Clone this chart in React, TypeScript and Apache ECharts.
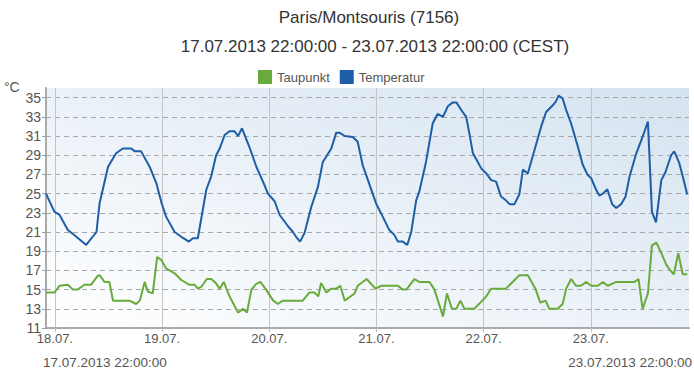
import React, { useEffect, useRef } from "react";
import * as echarts from "echarts";

// Hours after 17.07.2013 22:00 (CEST) and readings in °C
const tempHours = [0, 1.9, 3.0, 4.9, 6.8, 9.0, 11.3, 12.0, 13.9, 15.7, 17.2, 19.1, 19.9, 21.3, 23.2, 24.7, 25.9, 26.9, 28.8, 30.3, 32.0, 32.9, 34.0, 35.9, 37.0, 38.1, 38.9, 40.0, 41.1, 42.2, 43.0, 43.9, 45.6, 47.1, 48.6, 49.7, 51.2, 52.3, 54.2, 55.3, 56.0, 56.9, 57.9, 59.4, 60.9, 62.0, 63.9, 65.0, 65.7, 66.9, 68.7, 69.8, 70.9, 72.1, 73.9, 75.4, 76.9, 78.0, 78.8, 79.9, 80.9, 81.8, 82.9, 83.6, 85.1, 86.6, 87.7, 88.9, 90.0, 91.1, 91.9, 93.0, 94.1, 94.8, 95.6, 96.7, 97.5, 98.6, 99.7, 100.8, 101.9, 103.0, 103.8, 104.9, 106.0, 106.8, 107.9, 109.4, 110.9, 112.0, 113.5, 114.2, 114.8, 115.7, 116.5, 117.6, 119.1, 120.2, 121.3, 122.1, 123.2, 123.9, 124.7, 125.7, 126.8, 127.7, 128.8, 129.8, 130.7, 132.2, 133.6, 134.8, 135.7, 136.6, 137.8, 138.7, 140.0, 140.7, 141.8, 142.6, 143.6];
const tempValues = [25.0, 23.1, 22.8, 21.2, 20.5, 19.65, 21.0, 24.0, 27.8, 29.2, 29.7, 29.7, 29.4, 29.4, 27.8, 26.1, 24.0, 22.6, 21.0, 20.5, 20.0, 20.35, 20.35, 25.4, 26.8, 29.0, 29.7, 31.1, 31.5, 31.5, 31.0, 31.8, 29.8, 27.8, 26.25, 25.0, 24.2, 22.8, 21.6, 21.0, 20.5, 20.0, 20.9, 23.6, 25.7, 28.3, 29.7, 31.35, 31.35, 31.0, 30.9, 30.4, 28.0, 26.4, 24.0, 22.6, 21.2, 20.7, 20.0, 20.0, 19.65, 21.0, 24.3, 25.2, 28.3, 32.3, 33.3, 33.0, 34.1, 34.5, 34.5, 33.7, 33.0, 31.3, 29.2, 28.3, 27.6, 27.1, 26.4, 26.25, 24.7, 24.3, 23.9, 23.9, 24.9, 27.5, 27.1, 29.55, 32.0, 33.5, 34.2, 34.6, 35.2, 34.9, 33.7, 32.3, 29.9, 28.0, 26.95, 26.6, 25.4, 24.8, 25.0, 25.45, 23.9, 23.5, 23.9, 24.7, 26.8, 29.2, 30.9, 32.5, 23.1, 22.0, 26.4, 27.2, 29.0, 29.4, 28.2, 26.8, 24.9];

const dewHours = [0, 1.9, 3.0, 4.9, 6.0, 7.1, 8.6, 10.1, 11.6, 12.0, 13.1, 14.2, 15.0, 18.7, 20.2, 21.0, 22.1, 22.8, 23.9, 24.9, 25.8, 26.9, 28.8, 30.3, 32.1, 33.3, 34.0, 34.8, 36.0, 37.0, 38.0, 38.9, 39.8, 41.1, 43.0, 44.1, 45.0, 46.0, 47.1, 48.0, 49.3, 50.8, 51.9, 53.0, 57.5, 59.0, 60.1, 61.0, 61.6, 62.8, 63.9, 65.0, 65.9, 66.9, 69.1, 69.8, 71.8, 73.8, 75.1, 78.8, 79.9, 80.7, 82.5, 83.6, 85.9, 87.0, 88.9, 89.8, 90.9, 91.9, 92.8, 93.7, 95.9, 97.5, 98.6, 99.7, 103.0, 104.5, 106.0, 107.9, 109.6, 110.7, 111.9, 112.7, 114.6, 115.7, 116.5, 117.6, 118.7, 119.8, 121.0, 122.1, 123.6, 124.7, 125.8, 127.7, 131.8, 132.7, 133.6, 134.8, 135.7, 136.7, 137.8, 138.9, 139.8, 140.6, 141.6, 142.6, 143.6];
const dewValues = [14.7, 14.7, 15.4, 15.5, 15.0, 15.0, 15.5, 15.5, 16.45, 16.5, 15.8, 15.8, 13.85, 13.85, 13.5, 13.85, 15.8, 14.8, 14.6, 18.4, 18.1, 17.2, 16.7, 16.0, 15.5, 15.5, 15.1, 15.3, 16.1, 16.1, 15.7, 15.1, 15.8, 14.3, 12.6, 13.0, 12.6, 15.0, 15.6, 15.8, 15.0, 13.9, 13.5, 13.85, 13.85, 14.7, 14.7, 14.3, 15.7, 14.7, 15.1, 15.1, 15.4, 13.85, 14.6, 15.4, 16.1, 15.1, 15.4, 15.4, 15.0, 15.0, 16.1, 15.8, 15.8, 15.0, 12.2, 14.6, 13.0, 13.0, 13.85, 13.0, 13.0, 13.75, 14.3, 15.1, 15.1, 15.8, 16.5, 16.5, 15.1, 13.65, 13.85, 13.0, 13.0, 13.5, 15.1, 16.1, 15.4, 15.4, 15.8, 15.4, 15.4, 15.8, 15.4, 15.8, 15.8, 16.1, 13.0, 14.6, 19.6, 19.9, 18.8, 17.6, 17.0, 16.6, 18.8, 16.6, 16.6];

const yTicks = [11, 13, 15, 17, 19, 21, 23, 25, 27, 29, 31, 33, 35];
const dayTickHours = [2, 26, 50, 74, 98, 122];
const dayLabels = ["18.07.", "19.07.", "20.07.", "21.07.", "22.07.", "23.07."];

const titleText = "Paris/Montsouris (7156)";
const subtitleText = "17.07.2013 22:00:00 - 23.07.2013 22:00:00 (CEST)";
const startText = "17.07.2013 22:00:00";
const endText = "23.07.2013 22:00:00";
const unitText = "°C";
const seriesNames = ["Taupunkt", "Temperatur"];

const START = Date.UTC(2013, 6, 17, 22, 0, 0);
const HOUR = 3600 * 1000;
const END = START + 144 * HOUR;

const FONT = "'Liberation Sans', Arial, Helvetica, sans-serif";
const GREEN = "#68ab3c";
const BLUE = "#1d5ea6";

export default function App() {
  const ref = useRef<HTMLDivElement>(null);

  useEffect(() => {
    if (!ref.current) return;
    const chart = echarts.init(ref.current, null, { renderer: "svg" });
    const toPairs = (hs: number[], vs: number[]) => hs.map((h, i) => [START + h * HOUR, vs[i]]);
    const dayTicks = dayTickHours.map((h) => START + h * HOUR);
    const labelFor = (v: number) => {
      const i = dayTicks.findIndex((t) => Math.abs(t - v) < HOUR / 2);
      return i >= 0 ? dayLabels[i] : "";
    };

    chart.setOption({
      animation: false,
      textStyle: { fontFamily: FONT },
      title: [
        { text: titleText, left: 364, top: 4, textAlign: "center", textStyle: { fontSize: 17, fontWeight: "normal", color: "#333", fontFamily: FONT } },
        { text: subtitleText, left: 370, top: 33, textAlign: "center", textStyle: { fontSize: 17, fontWeight: "normal", color: "#333", fontFamily: FONT } },
      ],
      legend: {
        data: seriesNames,
        left: 253,
        top: 65,
        icon: "rect",
        itemWidth: 14,
        itemHeight: 14,
        itemGap: 10,
        textStyle: { fontSize: 13, color: "#555", fontFamily: FONT },
      },
      grid: {
        left: 46,
        right: 5,
        top: 88,
        bottom: 47,
        show: true,
        borderWidth: 0,
        backgroundColor: {
          type: "linear",
          x: 0, y: 1, x2: 1, y2: 0,
          colorStops: [
            { offset: 0, color: "#ffffff" },
            { offset: 1, color: "#d5e3f0" },
          ],
        },
      },
      xAxis: {
        type: "value",
        min: START,
        max: END,
        axisLine: { show: true, lineStyle: { color: "#aaa", width: 2 } },
        axisTick: { show: true, length: 4, customValues: dayTicks, lineStyle: { color: "#bbb" } },
        axisLabel: { customValues: dayTicks, formatter: (v: number) => labelFor(v), fontSize: 13, color: "#555", margin: 4, fontFamily: FONT },
        splitLine: { show: true, lineStyle: { color: "#c4c4c4", width: 1 } },
      },
      yAxis: {
        type: "value",
        min: 11,
        max: 36,
        axisLine: { show: true, lineStyle: { color: "#aaa", width: 2 } },
        axisTick: { show: true, length: 4, customValues: yTicks, lineStyle: { color: "#999" } },
        axisLabel: { customValues: yTicks, fontSize: 14, color: "#555", margin: 5, fontFamily: FONT },
        splitLine: { show: true, lineStyle: { color: "#a8a8a8", type: [5, 4], width: 1 } },
      },
      graphic: [
        { type: "text", left: 4, top: 80, style: { text: unitText, fontSize: 14, fill: "#555", fontFamily: FONT } },
        { type: "text", left: 43, top: 355, style: { text: startText, fontSize: 13.5, fill: "#555", fontFamily: FONT } },
        { type: "text", right: 2, top: 355, style: { text: endText, fontSize: 13.5, fill: "#555", fontFamily: FONT } },
      ],
      series: [
        {
          name: seriesNames[0],
          type: "line",
          data: toPairs(dewHours, dewValues),
          showSymbol: false,
          symbol: "none",
          itemStyle: { color: GREEN },
          lineStyle: { color: GREEN, width: 2 },
        },
        {
          name: seriesNames[1],
          type: "line",
          data: toPairs(tempHours, tempValues),
          showSymbol: false,
          symbol: "none",
          itemStyle: { color: BLUE },
          lineStyle: { color: BLUE, width: 2 },
        },
      ],
    });
    return () => chart.dispose();
  }, []);

  return <div ref={ref} style={{ width: 694, height: 375, position: "absolute", left: 0, top: 0 }} />;
}
